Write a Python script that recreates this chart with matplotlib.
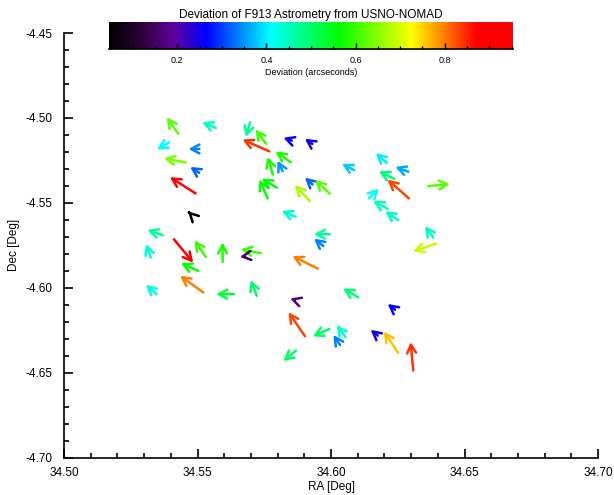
import numpy as np
import matplotlib
matplotlib.use("Agg")
import matplotlib.pyplot as plt
from matplotlib.colors import LinearSegmentedColormap, Normalize
from matplotlib.ticker import MultipleLocator, FormatStrFormatter

plt.rcParams['font.family'] = ['Liberation Sans', 'DejaVu Sans']

# star positions (arrow tails), deg
ra = [34.5428, 34.5569, 34.5394, 34.5507, 34.5456, 34.5506, 34.5493, 34.5468, 34.5370, 34.5769,
      34.5697, 34.5757, 34.5853, 34.5930, 34.5849, 34.5782, 34.5819, 34.5797, 34.5763, 34.5931,
      34.5921, 34.5996, 34.5868, 34.6087, 34.6209, 34.6290, 34.6237, 34.6292, 34.6364, 34.6143,
      34.6212, 34.6252, 34.6383, 34.5996, 34.5971, 34.6393, 34.6102, 34.6240, 34.5994, 34.6055,
      34.6034, 34.6175, 34.6252, 34.6308, 34.5325, 34.5412, 34.5531, 34.5503, 34.5594, 34.5737,
      34.5678, 34.5950, 34.5522, 34.5347, 34.5637, 34.5722, 34.5865, 34.5903, 34.5869]
dec = [-4.5094, -4.5059, -4.5144, -4.5183, -4.5263, -4.5323, -4.5445, -4.5556, -4.5691, -4.5197,
       -4.5026, -4.5153, -4.5134, -4.5153, -4.5261, -4.5333, -4.5314, -4.5411, -4.5474, -4.5392,
       -4.5490, -4.5447, -4.5582, -4.5308, -4.5265, -4.5317, -4.5359, -4.5474, -4.5402, -4.5474,
       -4.5535, -4.5602, -4.5705, -4.5685, -4.5754, -4.5740, -4.6057, -4.6130, -4.6243, -4.6292,
       -4.6337, -4.6282, -4.6384, -4.6488, -4.5822, -4.5715, -4.5819, -4.5901, -4.5848, -4.5797,
       -4.5815, -4.5887, -4.6028, -4.6038, -4.6038, -4.6048, -4.6073, -4.6286, -4.6370]
# offset vectors (arcsec, as drawn)
d_ra = [-0.36, -0.43, -0.38, -0.34, -0.68, -0.28, -0.80, -0.03, -0.48, -0.84,
        -0.13, -0.33, -0.26, -0.23, -0.47, -0.16, -0.16, -0.47, -0.26, -0.24,
        -0.47, -0.47, -0.44, -0.38, -0.34, -0.41, -0.48, -0.67, 0.68, 0.30,
        -0.45, -0.41, -0.26, -0.50, -0.29, -0.71, -0.47, -0.23, -0.52, -0.28,
        -0.21, -0.22, -0.45, -0.08, -0.15, 0.60, -0.35, -0.54, 0.00, -0.62,
        -0.16, -0.79, -0.73, -0.34, -0.56, -0.19, -0.15, -0.52, -0.40]
d_dec = [0.52, 0.18, -0.23, 0.00, 0.13, 0.18, 0.51, 0.03, 0.17, 0.37,
         -0.46, 0.45, 0.09, 0.16, 0.34, 0.55, 0.33, 0.29, 0.59, 0.21,
         0.50, 0.43, 0.18, 0.20, 0.31, 0.15, 0.24, 0.59, 0.07, 0.31,
         0.24, 0.28, 0.36, 0.00, 0.23, -0.25, 0.28, 0.18, -0.23, 0.38,
         0.31, 0.18, 0.67, 0.89, 0.42, -0.73, 0.52, 0.24, 0.61, 0.13,
         -0.02, 0.39, 0.52, 0.29, 0.00, 0.49, 0.05, 0.75, -0.33]
# deviation (arcsec), colour coded
dev = [0.62, 0.44, 0.41, 0.34, 0.64, 0.32, 0.95, 0.047, 0.47, 0.84,
       0.47, 0.60, 0.26, 0.25, 0.58, 0.58, 0.35, 0.56, 0.57, 0.32,
       0.67, 0.62, 0.44, 0.38, 0.40, 0.36, 0.49, 0.83, 0.62, 0.41,
       0.45, 0.44, 0.45, 0.47, 0.34, 0.69, 0.49, 0.26, 0.50, 0.44,
       0.34, 0.25, 0.76, 0.84, 0.43, 0.953, 0.60, 0.57, 0.58, 0.60,
       0.16, 0.80, 0.80, 0.43, 0.53, 0.50, 0.17, 0.83, 0.50]

cmap = LinearSegmentedColormap.from_list('rainbow_black', [
    (0.00, (0, 0, 0)), (0.08, (0.18, 0, 0.22)), (0.16, (0.38, 0, 0.62)),
    (0.24, (0, 0, 1)), (0.40, (0, 1, 1)), (0.57, (0, 1, 0)),
    (0.75, (1, 1, 0)), (0.91, (1, 0, 0)), (1.00, (1, 0, 0))])
norm = Normalize(min(dev), max(dev))

fig = plt.figure(figsize=(6.14, 4.95), dpi=100)
ax = fig.add_axes([64/614, 37.5/495, 534/614, 424.5/495])

pt_per_as = 32 * 0.72  # arrow length, points per arcsec
for x, y, u, v, d in zip(ra, dec, d_ra, d_dec, dev):
    ax.annotate('', xy=(x, y), xytext=(u*pt_per_as, v*pt_per_as), textcoords='offset points',
                arrowprops=dict(arrowstyle='<-,head_length=0.6,head_width=0.32',
                                color=cmap(norm(d)), lw=1.8, shrinkA=0, shrinkB=0,
                                mutation_scale=10))

ax.set_xlim(34.50, 34.70)
ax.set_ylim(-4.70, -4.45)
ax.xaxis.set_major_locator(MultipleLocator(0.05))
ax.xaxis.set_minor_locator(MultipleLocator(0.01))
ax.yaxis.set_major_locator(MultipleLocator(0.05))
ax.yaxis.set_minor_locator(MultipleLocator(0.01))
ax.xaxis.set_major_formatter(FormatStrFormatter('%.2f'))
ax.yaxis.set_major_formatter(FormatStrFormatter('%.2f'))
ax.tick_params(which='both', direction='in', labelsize=8.5, width=1.2)
ax.tick_params(which='major', length=6.5)
ax.tick_params(which='minor', length=3.5)
ax.tick_params(axis='x', pad=7)
ax.tick_params(axis='y', pad=8)
for s in ['top', 'right']:
    ax.spines[s].set_visible(False)
for s in ['left', 'bottom']:
    ax.spines[s].set_linewidth(1.2)
ax.set_xlabel('RA [Deg]', fontsize=8.5, labelpad=1)
ax.set_ylabel('Dec [Deg]', fontsize=8.5, labelpad=4)

# colour bar
cax = fig.add_axes([109/614, (495-49)/495, 404/614, 27/495])
grad = np.linspace(norm.vmin, norm.vmax, 512)[None, :]
cax.imshow(grad, aspect='auto', cmap=cmap, norm=norm,
           extent=(norm.vmin, norm.vmax, 0, 1))
cax.set_xlim(norm.vmin, norm.vmax)
cax.set_yticks([])
cax.xaxis.set_major_locator(MultipleLocator(0.2))
cax.xaxis.set_minor_locator(MultipleLocator(0.05))
cax.tick_params(which='both', direction='in', labelsize=6.5, width=1, pad=5)
cax.tick_params(which='major', length=4.5)
cax.tick_params(which='minor', length=2.5)
for s in ['top', 'right', 'left']:
    cax.spines[s].set_visible(False)
cax.spines['bottom'].set_linewidth(1.2)
cax.set_xlabel('Deviation (arcseconds)', fontsize=6.5, labelpad=2)
cax.set_title('Deviation of F913 Astrometry from USNO-NOMAD', fontsize=8.5, pad=3)

fig.savefig('out.png', dpi=100)
